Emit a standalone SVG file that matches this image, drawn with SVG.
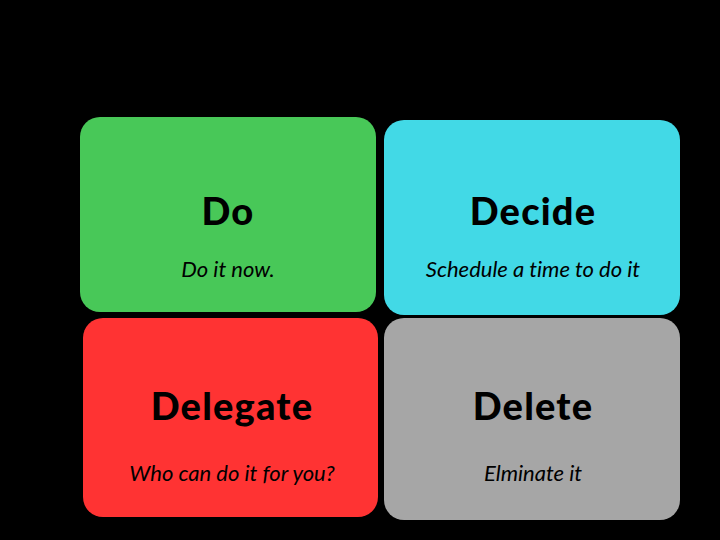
<svg xmlns="http://www.w3.org/2000/svg" width="720" height="540" viewBox="0 0 720 540">
<style>
.t{font-family:Lato,"Open Sans","Liberation Sans",sans-serif;font-weight:900;font-size:38px;letter-spacing:1.2px;fill:#000;text-anchor:middle}
.s{font-family:Lato,"Open Sans","Liberation Sans",sans-serif;font-style:italic;font-size:22px;fill:#000;text-anchor:middle;font-variant-ligatures:none}
</style>
<rect width="720" height="540" fill="#000"/>
<g id="do">
<rect x="80" y="117" width="296" height="195" rx="20" fill="#48C858"/>
<text class="t" x="228" y="225">Do</text>
<text class="s" x="228" y="277">Do it now.</text>
</g>
<g id="decide">
<rect x="384" y="120" width="296" height="195" rx="20" fill="#42D9E6"/>
<text class="t" x="533" y="225">Decide</text>
<text class="s" x="533" y="277">Schedule a time to do it</text>
</g>
<g id="delegate">
<rect x="83" y="318" width="295" height="199" rx="20" fill="#FF3333"/>
<text class="t" x="232" y="420">Delegate</text>
<text class="s" x="232" y="481">Who can do it for you?</text>
</g>
<g id="delete">
<rect x="384" y="318" width="296" height="202" rx="20" fill="#A6A6A6"/>
<text class="t" x="533" y="420">Delete</text>
<text class="s" x="533" y="481">Elminate it</text>
</g>
<g id="connectors"></g>
</svg>
